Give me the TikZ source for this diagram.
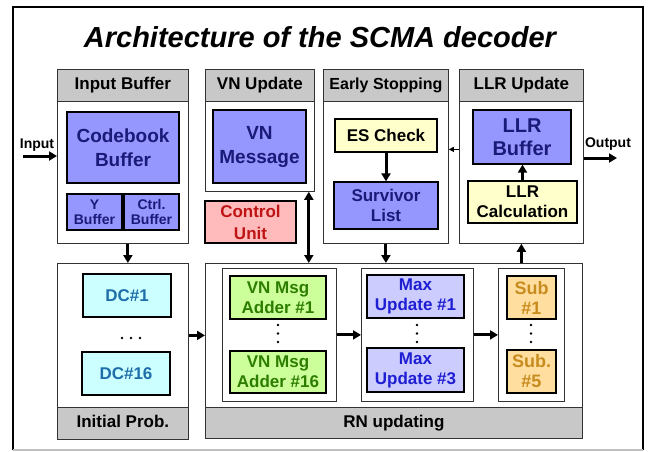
\documentclass[tikz,border=0pt]{standalone}
\usepackage{fontspec}
\setmainfont{Liberation Sans}
\usetikzlibrary{arrows.meta}

\definecolor{hdrgray}{RGB}{200,200,200}
\definecolor{periw}{RGB}{150,150,255}
\definecolor{navytext}{RGB}{26,26,120}
\definecolor{lavbox}{RGB}{204,204,255}
\definecolor{bluetext}{RGB}{30,30,210}
\definecolor{greenbox}{RGB}{204,255,153}
\definecolor{greentext}{RGB}{45,125,0}
\definecolor{cyanbox}{RGB}{204,255,255}
\definecolor{cyantext}{RGB}{30,110,170}
\definecolor{yelbox}{RGB}{255,255,204}
\definecolor{pinkbox}{RGB}{255,187,187}
\definecolor{redtext}{RGB}{190,20,20}
\definecolor{orangebox}{RGB}{255,222,160}
\definecolor{orangetext}{RGB}{200,140,30}

\begin{document}
\begin{tikzpicture}[x=1pt,y=-1pt,>={Triangle[length=8pt,width=9pt]},
	block/.style={draw=black!80,fill=white,line width=0.8pt,inner sep=0pt,anchor=north west},
	bar/.style={block,fill=hdrgray,text height=12pt,text depth=3.5pt,font=\bfseries\fontsize{17}{20}\selectfont},
	unit/.style={draw=black,line width=1.3pt,inner sep=0pt,align=center,font=\bfseries\fontsize{17}{20}\selectfont},
	bigfont/.style={font=\bfseries\fontsize{19}{24}\selectfont},
	smallfont/.style={font=\bfseries\fontsize{14}{15}\selectfont},
	periwbox/.style={unit,fill=periw,text=navytext},
	lavunit/.style={unit,fill=lavbox,text=bluetext},
	greenunit/.style={unit,fill=greenbox,text=greentext},
	cyanunit/.style={unit,fill=cyanbox,text=cyantext},
	yelunit/.style={unit,fill=yelbox,text=black},
	pinkunit/.style={unit,fill=pinkbox,text=redtext},
	orangeunit/.style={unit,fill=orangebox,text=orangetext,font=\bfseries\fontsize{18}{20}\selectfont},
	lbl/.style={anchor=base,font=\bfseries\fontsize{14}{16}\selectfont},
	big/.style={line width=3pt,->},
]
	\useasboundingbox (0,0) rectangle (649,451);
	% frame and title
	\draw[line width=1.8pt] (13,450) -- (13,7) -- (643,7) -- (643,450);
	\draw[gray!50,line width=1.5pt] (13,450) -- (643,450);
	\node[font=\bfseries\itshape\fontsize{29}{30}\selectfont] (title) at (320,37) {Architecture of the SCMA decoder};

	% input buffer
	\node[block,minimum width=131,minimum height=174] (inbuf) at (57,69) {};
	\node[bar,minimum width=131,minimum height=32] (inbufh) at (57,69) {Input Buffer};
	\node[periwbox,bigfont,minimum width=112,minimum height=71] (cbbuf) at (123,147.5) {Codebook\\Buffer};
	\node[periwbox,smallfont,minimum width=55,minimum height=36] (ybuf) at (94.5,212) {Y\\Buffer};
	\node[periwbox,smallfont,minimum width=55,minimum height=36] (ctrlbuf) at (151.5,212) {Ctrl.\\Buffer};

	% VN update
	\node[block,minimum width=109,minimum height=122] (vnup) at (205,69) {};
	\node[bar,minimum width=109,minimum height=32] (vnuph) at (205,69) {VN Update};
	\node[periwbox,bigfont,minimum width=93,minimum height=73] (vnmsg) at (259.5,146.5) {VN\\Message};
	\node[pinkunit,font=\bfseries\fontsize{17}{22}\selectfont,minimum width=91,minimum height=42] (ctrl) at (250.5,222) {Control\\Unit};

	% early stopping
	\node[block,minimum width=125,minimum height=174] (esblk) at (323,69) {};
	\node[bar,font=\bfseries\fontsize{16}{20}\selectfont,minimum width=125,minimum height=32] (esh) at (323,69) {Early Stopping};
	\node[yelunit,minimum width=102,minimum height=33] (escheck) at (386,135.5) {ES Check};
	\node[periwbox,minimum width=104,minimum height=47] (surv) at (386,205.5) {Survivor\\List};

	% LLR update
	\node[block,minimum width=124,minimum height=174] (llrblk) at (459,69) {};
	\node[bar,minimum width=124,minimum height=32] (llrh) at (459,69) {LLR Update};
	\node[periwbox,font=\bfseries\fontsize{20}{23}\selectfont,minimum width=98,minimum height=54] (llrbuf) at (522,137) {LLR\\Buffer};
	\node[yelunit,minimum width=109,minimum height=42] (llrcalc) at (522.5,202) {LLR\\Calculation};

	% initial probability
	\node[block,minimum width=131,minimum height=176] (iniprob) at (57,263) {};
	\node[bar,minimum width=131,minimum height=32] (iniprobf) at (57,407) {Initial Prob.};
	\node[cyanunit,minimum width=88,minimum height=43] (dc1) at (127,295.5) {DC\#1};
	\node[cyanunit,minimum width=88,minimum height=43] (dc16) at (126,373.5) {DC\#16};
	\foreach \dx in {122,131,140} \fill (\dx,338) circle (1.3pt);

	% RN updating
	\node[block,minimum width=377,minimum height=175] (rnupd) at (205,263) {};
	\node[bar,minimum width=377,minimum height=31] (rnupdf) at (205,407) {RN updating};
	\node[block,minimum width=114,minimum height=133] (gvn) at (222,268) {};
	\node[block,minimum width=112,minimum height=133] (gmax) at (361,268) {};
	\node[block,minimum width=66,minimum height=133] (gsub) at (498,268) {};
	\node[greenunit,minimum width=96,minimum height=43] (vnadd1) at (278,297.5) {VN Msg\\Adder \#1};
	\node[greenunit,minimum width=96,minimum height=42] (vnadd16) at (278,372) {VN Msg\\Adder \#16};
	\node[lavunit,minimum width=97,minimum height=43] (max1) at (415.5,296.5) {Max\\Update \#1};
	\node[lavunit,minimum width=97,minimum height=44] (max3) at (415.5,370) {Max\\Update \#3};
	\node[orangeunit,minimum width=49,minimum height=43] (sub1) at (531.5,297.5) {Sub\\\#1};
	\node[orangeunit,minimum width=49,minimum height=43] (sub5) at (531.5,371.5) {Sub.\\\#5};
	\foreach \cx in {278,417,531}
		\foreach \dy in {325,333.5,342} \fill (\cx,\dy) circle (1.3pt);

	% inputs and outputs
	\coordinate (in) at (23,156);
	\coordinate (out) at (617,158);
	\node[lbl] (inlbl) at (37,148) {Input};
	\node[lbl] (outlbl) at (608,147) {Output};
	\draw[big] (in) -- (in -| inbuf.west);
	\draw[big] (llrblk.east |- out) -- (out);

	% connections
	\draw[big] ([xshift=5pt]inbuf.south) -- ([xshift=5pt]inbuf.south |- iniprob.north);
	\draw[big] ([yshift=16pt]iniprob.east) -- ([yshift=16pt]iniprob.east -| rnupd.west);
	\draw[big,<->] ([xshift=-6pt]vnup.south east) -- ([xshift=-6pt]vnup.south east |- rnupd.north);
	\draw[big] (escheck) -- (surv);
	\draw[big] (esblk.south) -- (esblk.south |- rnupd.north);
	\draw[big] (llrblk.south |- rnupd.north) -- (llrblk.south);
	\draw[big] (llrcalc.north) -- (llrcalc.north |- llrbuf.south);
	\draw[big] (gvn.east) -- (gmax.west);
	\draw[big] (gmax.east) -- (gsub.west);
	\draw[line width=1pt,-{Triangle[length=5pt,width=5pt]}] ([yshift=7pt]llrblk.west) -- ([yshift=7pt]llrblk.west -| esblk.east);
\end{tikzpicture}
\end{document}
